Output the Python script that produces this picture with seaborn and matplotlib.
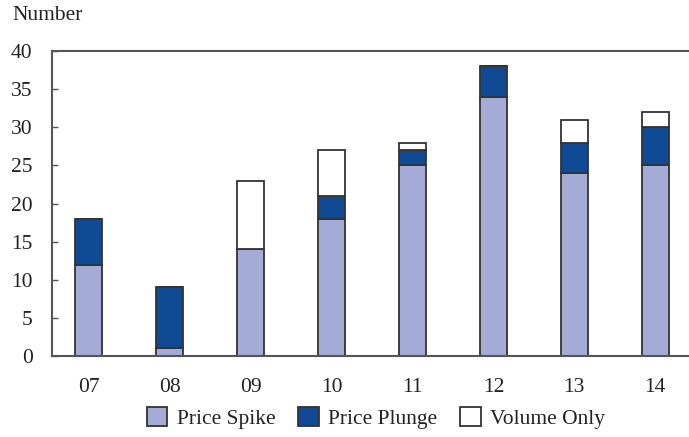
import matplotlib
matplotlib.use("Agg")
import matplotlib.pyplot as plt
import seaborn as sns
import numpy as np
import pandas as pd
from matplotlib.patches import Patch

years = ["07", "08", "09", "10", "11", "12", "13", "14"]
price_spike = [12, 1, 14, 18, 25, 34, 24, 25]
price_plunge = [6, 8, 0, 3, 2, 4, 4, 5]
volume_only = [0, 0, 9, 6, 1, 0, 3, 2]
series_names = ["Price Spike", "Price Plunge", "Volume Only"]
colors = ["#A4ABD6", "#104A94", "#FFFFFF"]

sns.set_theme(style="white")
plt.rcParams['font.family'] = ['Liberation Serif', 'DejaVu Serif']

fig = plt.figure(figsize=(6.89, 4.37), dpi=100)
ax = fig.add_axes([52/689, 1-356/437, 1-52/689, (356-51)/437])

df = pd.DataFrame({"year": years, "spike": price_spike,
                   "plunge": price_plunge, "volume": volume_only})
bottoms = np.zeros(len(years))
for col, name, c in zip(["spike", "plunge", "volume"], series_names, colors):
    vals = df[col].to_numpy(dtype=float)
    sns.barplot(data=df, x="year", y=col, order=years, bottom=bottoms,
                color=c, edgecolor="#333333", linewidth=1.3, width=0.335,
                saturation=1, ax=ax, errorbar=None)
    bottoms = bottoms + vals

ax.set_ylim(0, 40)
ax.set_xlim(-0.453, 7.417)
ax.set_yticks(range(0, 41, 5))
ax.set_xlabel("")
ax.set_ylabel("")
for s in ["left", "bottom", "top"]:
    ax.spines[s].set_visible(True)
    ax.spines[s].set_color("#555555")
    ax.spines[s].set_linewidth(1.5)
ax.spines["right"].set_visible(False)
ax.tick_params(axis="y", direction="in", length=4, width=1, color="#555555",
               labelsize=15.5, pad=14, left=True, labelcolor="#222222")
ax.tick_params(axis="x", length=0, labelsize=15.5, pad=16, labelcolor="#222222")
for lab in ax.get_yticklabels():
    lab.set_horizontalalignment("right")

fig.text(12/689, 1-16/437, "Number", fontsize=15.5, color="#222222",
         ha="left", va="center")

handles = [Patch(facecolor=c, edgecolor="#333333", linewidth=1.3, label=n)
           for c, n in zip(colors, series_names)]
fig.legend(handles=handles, loc="center", bbox_to_anchor=(376/689, 1-418/437),
           ncol=3, frameon=False, fontsize=15.5, handlelength=0.95,
           handleheight=0.95, handletextpad=0.45, columnspacing=1.05,
           labelcolor="#222222")

fig.savefig("out.png", dpi=100)
